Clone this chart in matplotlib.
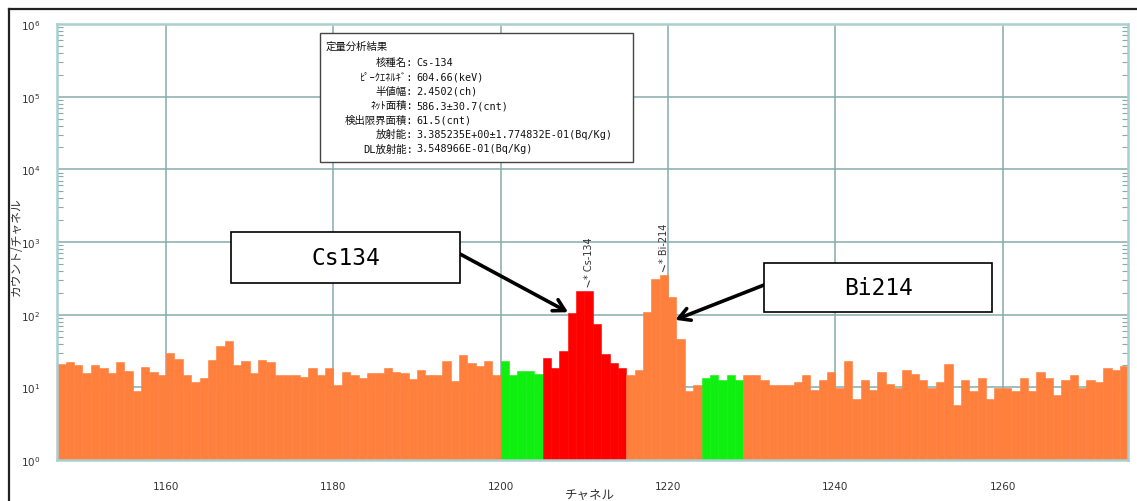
import matplotlib
matplotlib.use("Agg")
import matplotlib.pyplot as plt
import numpy as np
from matplotlib.patches import Rectangle
from matplotlib.lines import Line2D
from matplotlib.ticker import LogLocator, LogFormatterMathtext, NullFormatter

W, H, DPI = 1137, 502, 100
JP = ["DejaVu Sans Mono", "Noto Sans CJK JP"]

# ------------------------------------------------------------------ data
CH_START = 1147
COUNTS = [
    21, 22, 20, 16, 20, 18.5, 16, 22, 17, 9,            # 1147-1156
    19, 16.5, 15, 30, 24.5, 15, 12, 13.5, 24, 37,       # 1157-1166
    43, 20, 23, 16, 24, 22, 15, 15, 15, 13.7,           # 1167-1176
    18.6, 15, 18.6, 10.7, 16.4, 15, 13.6, 16, 16, 18.6, # 1177-1186
    16.4, 16, 13, 17.5, 15, 15, 23, 12.3, 27.8, 21.6,   # 1187-1196
    19.5, 23, 14.7, 23, 15, 17, 16.6, 15.4, 25, 18.6,   # 1197-1206
    31.6, 105, 211, 215, 74, 28.7, 21.3, 18.6, 14.7, 17.3,  # 1207-1216
    108, 309, 350, 175, 46, 9, 10.8, 13.4, 14.7, 12.7,  # 1217-1226
    14.7, 12.7, 15, 15, 12.7, 10.8, 10.8, 10.8, 12, 15, # 1227-1236
    9.2, 12.7, 16.4, 9.7, 23, 6.9, 12.7, 9.2, 16.4, 11, # 1237-1246
    9.7, 17.5, 15.2, 12.7, 9.7, 12, 20.7, 5.8, 12.7, 8.9,  # 1247-1256
    13.6, 6.9, 9.7, 9.7, 8.9, 13.6, 8.9, 16.4, 13.6, 7.8,  # 1257-1266
    12.7, 15, 9.7, 12.7, 12, 18.6, 17.5, 19.5,          # 1267-1274
]
CHANNELS = np.arange(CH_START, CH_START + len(COUNTS))

# ROI: (first, last) channel
BG_ROIS = [(1200, 1204), (1224, 1228)]
PEAK_ROI = (1205, 1214)

PEAKS = ["Cs-134", "Bi-214"]
PEAK_CH = [1210, 1219]

CALLOUTS = ["Cs134", "Bi214"]
ARROW_TIP = [(1208.05, 108), (1220.85, 85)]

INFO_TITLE = "定量分析結果"
INFO_LABELS = ["核種名:", "ﾋﾟｰｸｴﾈﾙｷﾞ:", "半値幅:", "ﾈｯﾄ面積:", "検出限界面積:",
               "放射能:", "DL放射能:"]
INFO_VALUES = ["Cs-134", "604.66(keV)", "2.4502(ch)", "586.3±30.7(cnt)",
               "61.5(cnt)", "3.385235E+00±1.774832E-01(Bq/Kg)",
               "3.548966E-01(Bq/Kg)"]

XTICKS = [1160, 1180, 1200, 1220, 1240, 1260]

# ------------------------------------------------------------------ style
ORANGE = "#FF7F3C"
GREEN = "#10F010"
RED = "#FF0000"
GRID = "#86ABAB"
SPINE = "#AACFCF"
TXT = "#333333"


def px(x, y):
    """pixel (from top-left) -> figure fraction"""
    return x / W, 1 - y / H


colors = []
for c in CHANNELS:
    if PEAK_ROI[0] <= c <= PEAK_ROI[1]:
        colors.append(RED)
    elif any(a <= c <= b for a, b in BG_ROIS):
        colors.append(GREEN)
    else:
        colors.append(ORANGE)

fig = plt.figure(figsize=(W / DPI, H / DPI), dpi=DPI, facecolor="white")
x0, y1 = px(57.3, 25)
x1, y0 = px(1128.3, 461)
ax = fig.add_axes([x0, y0, x1 - x0, y1 - y0])
ax.set_yscale("log")
ax.set_xlim(1147, 1275)
ax.set_ylim(1, 1e6)

ax.bar(CHANNELS, COUNTS, width=1, align="edge", color=colors,
       edgecolor=colors, linewidth=0.4, zorder=2)

ax.set_xticks(XTICKS)
ax.yaxis.set_major_locator(LogLocator(base=10, numticks=10))
ax.yaxis.set_major_formatter(LogFormatterMathtext())
ax.yaxis.set_minor_locator(LogLocator(base=10, subs=np.arange(2, 10), numticks=10))
ax.yaxis.set_minor_formatter(NullFormatter())
ax.grid(True, which="major", color=GRID, lw=1.1, zorder=1)
ax.set_axisbelow(True)
ax.tick_params(axis="both", which="major", length=0, labelsize=7.5, colors=TXT)
ax.tick_params(axis="x", pad=15)
ax.tick_params(axis="y", which="major", pad=12)
ax.tick_params(axis="y", which="minor", direction="in", length=4, width=0.8,
               color=GRID, left=True, right=True)
for s in ax.spines.values():
    s.set_color(SPINE)
    s.set_linewidth(1.8)

# peak labels
for name, ch in zip(PEAKS, PEAK_CH):
    top = COUNTS[ch - CH_START]
    xc = ch + 0.5
    ax.plot([xc - 0.15, xc + 0.1], [top * 1.12, top * 1.35], color=TXT, lw=0.7, zorder=4)
    ax.text(xc, top * 1.5, "* " + name, rotation=90, ha="center", va="bottom",
            fontsize=7, color=TXT, family="DejaVu Sans", zorder=4)

# axis labels
fig.text(*px(16, 247), "カウント/チャネル", rotation=90, ha="center", va="center",
         fontsize=8.5, color=TXT, family=["Noto Sans CJK JP", "DejaVu Sans"])
fig.text(*px(590, 495), "チャネル", ha="center", va="center",
         fontsize=9, color=TXT, family=["Noto Sans CJK JP", "DejaVu Sans"])

# info box
bx0, by1 = px(320, 34)
bx1, by0 = px(633, 163)
fig.patches.append(Rectangle((bx0, by0), bx1 - bx0, by1 - by0, transform=fig.transFigure,
                             facecolor="white", edgecolor="#444444", lw=1.0, zorder=5))
fig.text(*px(326, 47), INFO_TITLE, ha="left", va="center", fontsize=7.5,
         color="#111111", family=JP, zorder=6)
for i, (lab, val) in enumerate(zip(INFO_LABELS, INFO_VALUES)):
    y = 63.3 + i * 14.35
    fig.text(*px(413, y), lab, ha="right", va="center", fontsize=7.5,
             color="#111111", family=JP, zorder=6)
    fig.text(*px(416, y), val, ha="left", va="center", fontsize=7.3,
             color="#111111", family=JP, zorder=6)

# callout boxes + arrows
boxes = [(231, 233, 460, 284), (764, 264, 992, 313)]
starts = [(460, 255), (764, 286)]
for label, (l, t, r, b), st, tip in zip(CALLOUTS, boxes, starts, ARROW_TIP):
    fl, ft = px(l, t)
    fr, fb = px(r, b)
    fig.patches.append(Rectangle((fl, fb), fr - fl, ft - fb, transform=fig.transFigure,
                                 facecolor="white", edgecolor="black", lw=1.2, zorder=5))
    fig.text((fl + fr) / 2, (fb + ft) / 2, label, ha="center", va="center",
             fontsize=16.5, color="black", family="DejaVu Sans Mono", zorder=6)
    ax.annotate("", xy=tip, xycoords="data", xytext=px(*st), textcoords="figure fraction",
                arrowprops=dict(arrowstyle="->,head_length=0.8,head_width=0.45",
                                color="black", lw=2.6, shrinkA=0, shrinkB=0),
                zorder=6, annotation_clip=False)

# outer frame
fig.lines.append(Line2D([9 / W, 1], [1 - 10 / H] * 2, transform=fig.transFigure,
                        color="#222222", lw=1.6))
fig.lines.append(Line2D([9 / W] * 2, [0, 1 - 10 / H], transform=fig.transFigure,
                        color="#222222", lw=1.6))

fig.savefig("out.png", dpi=DPI, facecolor="white")
